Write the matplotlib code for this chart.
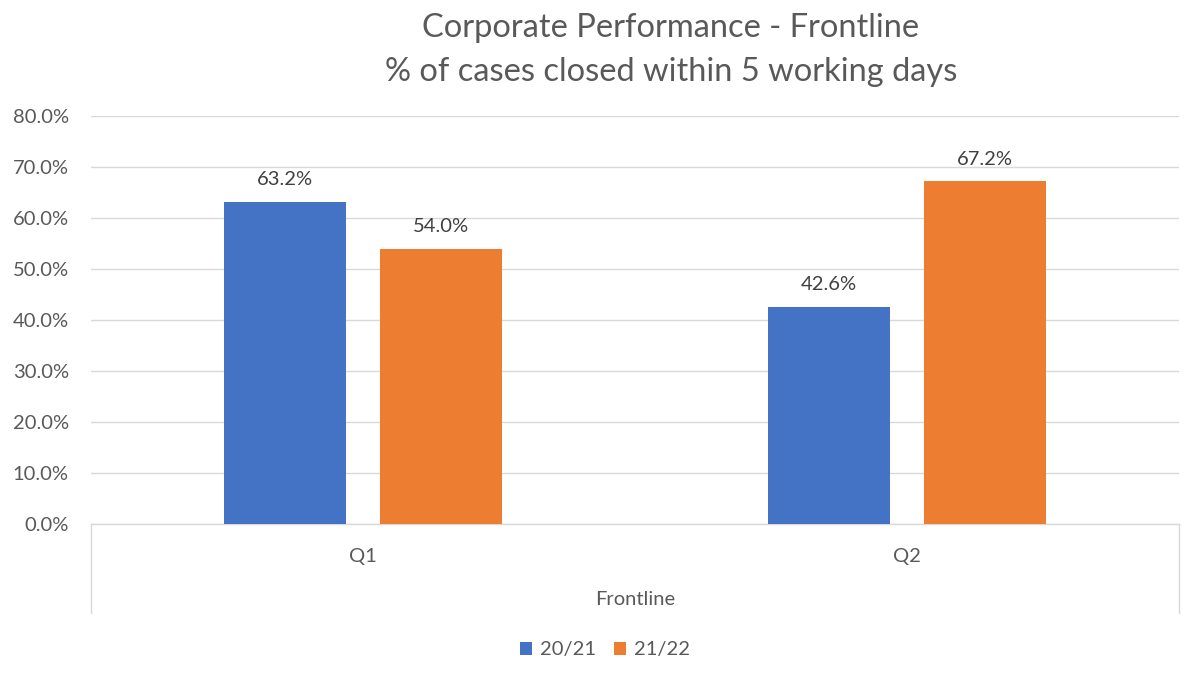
import matplotlib.pyplot as plt
import numpy as np

# ---------------------------------------------------------------
# Data
# ---------------------------------------------------------------
quarters = ["Q1", "Q2"]
series_names = ["20/21", "21/22"]
values_2021 = [63.2, 42.6]
values_2122 = [54.0, 67.2]
y_ticks = [0, 10, 20, 30, 40, 50, 60, 70, 80]

BLUE = "#4472C4"
ORANGE = "#ED7D31"
GREY_TXT = "#595959"
GRID = "#D9D9D9"
FS = 14.5

plt.rcParams['font.family'] = ['Lato', 'DejaVu Sans']

fig = plt.figure(figsize=(12.01, 6.77), dpi=100)
ax = fig.add_axes([0.0758, 0.226, 0.9059, 0.6027])

x = np.arange(len(quarters))
width = 0.225
offset = 0.143

bars1 = ax.bar(x - offset, values_2021, width, color=BLUE, label=series_names[0], zorder=3)
bars2 = ax.bar(x + offset, values_2122, width, color=ORANGE, label=series_names[1], zorder=3)

# data labels above bars
for bars in (bars1, bars2):
    for b in bars:
        ax.annotate(f"{b.get_height():.1f}%",
                    (b.get_x() + b.get_width() / 2, b.get_height()),
                    xytext=(0, 16), textcoords="offset points",
                    ha="center", va="center", fontsize=FS, color="#404040")

ax.set_xlim(-0.5, 1.5)
ax.set_ylim(0, 80)
ax.set_yticks(y_ticks)
ax.set_yticklabels([f"{v:.1f}%" for v in y_ticks])
ax.yaxis.grid(True, color=GRID, linewidth=1, zorder=0)
ax.tick_params(axis="y", length=0, labelsize=FS, labelcolor=GREY_TXT, pad=16)
ax.tick_params(axis="x", length=0, labelsize=FS, labelcolor=GREY_TXT, pad=17)
ax.set_xticks(x)
ax.set_xticklabels(quarters)

for s in ("top", "right", "left"):
    ax.spines[s].set_visible(False)
ax.spines["bottom"].set_color(GRID)
ax.spines["bottom"].set_linewidth(1)

# multi-level category box edges
box_depth = (613 - 524) / 408
for xa in (0, 1):
    ax.plot([xa, xa], [0, -box_depth], transform=ax.transAxes,
            color=GRID, linewidth=1, clip_on=False)

ax.text(0.5, -0.186, "Frontline", transform=ax.transAxes,
        ha="center", va="center", fontsize=FS, color=GREY_TXT)

# title (two lines)
fig.text(671 / 1201, 1 - 28 / 677, "Corporate Performance - Frontline",
         ha="center", va="center", fontsize=23.5, color=GREY_TXT)
fig.text(671 / 1201, 1 - 72 / 677, "% of cases closed within 5 working days",
         ha="center", va="center", fontsize=23.5, color=GREY_TXT)

ax.legend(loc="center", bbox_to_anchor=(605 / 1201, 1 - 650 / 677), bbox_transform=fig.transFigure,
          ncol=2, frameon=False, fontsize=FS, labelcolor=GREY_TXT,
          handlelength=0.6, handleheight=0.6, handletextpad=0.4, columnspacing=0.9)

fig.savefig("out.png", dpi=100)
